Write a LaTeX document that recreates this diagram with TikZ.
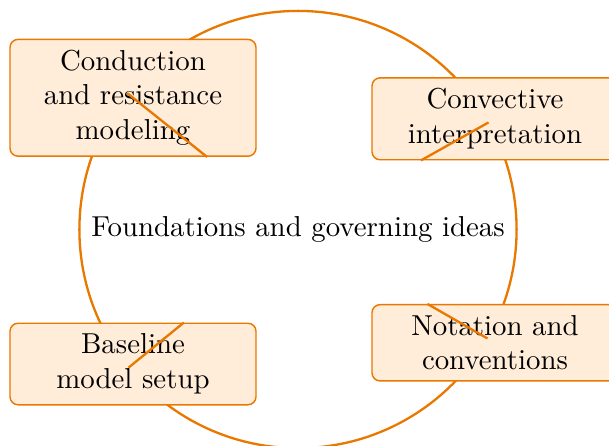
\documentclass[tikz,border=0pt]{standalone}
\usetikzlibrary{calc}
\definecolor{accent}{RGB}{232,120,0}
\begin{document}
\begin{tikzpicture}[x=0.34674pt,y=-0.34674pt,
  hubstyle/.style={circle, draw=accent, line width=0.8pt, minimum size=151.6pt, inner sep=3.33pt},
  topic/.style={draw=accent, line width=0.5pt, fill=orange!15, rounded corners=2.8pt,
    text width=64pt, minimum width=85.3pt, align=center, inner ysep=3.7pt},
  link/.style={draw=accent, line width=0.8pt}]
\useasboundingbox (0,0) rectangle (609,446);
\node[hubstyle] (hub) at (298,229.5) {Foundations and governing ideas};
\node[topic] (A) at (133,97.8) {Conduction and resistance modeling};
\node[topic] (B) at (495,118.8) {Convective interpretation};
\node[topic] (C) at (495,342.8) {Notation and conventions};
\node[topic] (D) at (133,364) {Baseline model setup};
\foreach \n in {A,B,C,D}{
  \path (\n) -- (hub.center) coordinate[pos=0] (\n1);
  \draw[link] (\n1) -- ($(hub.center)!75.8pt!(\n.center)$);
}
\end{tikzpicture}
\end{document}
